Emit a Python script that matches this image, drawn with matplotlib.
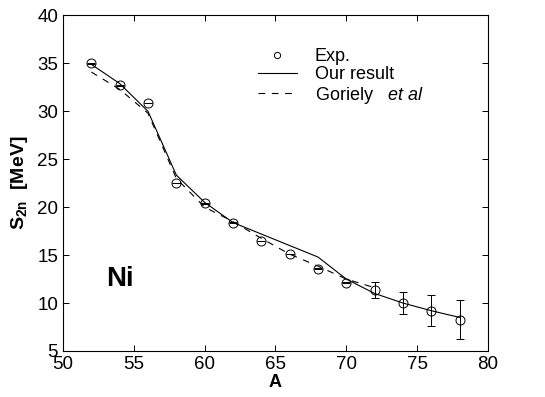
import matplotlib
matplotlib.use("Agg")
import matplotlib.pyplot as plt
from matplotlib.lines import Line2D

plt.rcParams['font.family'] = ['Liberation Sans', 'DejaVu Sans']
plt.rcParams['mathtext.fontset'] = 'custom'
plt.rcParams['mathtext.rm'] = 'Liberation Sans'
plt.rcParams['mathtext.it'] = 'Liberation Sans:italic'
plt.rcParams['mathtext.bf'] = 'Liberation Sans:bold'

# Experimental data
exp_A = [52, 54, 56, 58, 60, 62, 64, 66, 68, 70, 72, 74, 76, 78]
exp_S = [35.0, 32.7, 30.9, 22.5, 20.4, 18.4, 16.5, 15.1, 13.6, 12.1, 11.35, 10.0, 9.2, 8.25]
exp_err = [0.02, 0.02, 0.02, 0.02, 0.02, 0.02, 0.02, 0.02, 0.02, 0.05, 0.8, 1.15, 1.6, 2.05]

# Our result
our_A = [52, 54, 56, 58, 60, 62, 64, 66, 68, 70, 72, 74, 76, 78]
our_S = [34.9, 32.9, 30.0, 23.35, 20.5, 18.4, 17.2, 16.0, 14.8, 12.5, 11.0, 10.0, 9.2, 8.5]

# Goriely et al
gor_A = [52, 54, 56, 58, 60, 62, 64, 66, 68, 70, 72]
gor_S = [34.1, 32.3, 29.8, 23.0, 20.0, 18.5, 16.75, 15.1, 13.85, 12.5, 11.6]

xticks = [50, 55, 60, 65, 70, 75, 80]
yticks = [5, 10, 15, 20, 25, 30, 35, 40]

fig = plt.figure(figsize=(5.45, 3.97), dpi=100)
ax = fig.add_axes([0.1156, 0.1159, 0.7798, 0.8451])

ax.plot(our_A, our_S, color='black', lw=0.8, zorder=3)
ax.plot(gor_A, gor_S, color='black', lw=0.8, ls=(0, (6, 6)), zorder=3)
ax.errorbar(exp_A, exp_S, yerr=exp_err, fmt='o', mfc='none', mec='black',
            ms=6.5, mew=0.7, ecolor='black', elinewidth=0.7, capsize=3,
            capthick=0.7, zorder=4)

ax.set_xlim(50, 80)
ax.set_ylim(5, 40)
ax.set_xticks(xticks)
ax.set_yticks(yticks)
ax.tick_params(direction='in', length=4, width=0.7, top=True, right=True,
               labelsize=13.5, pad=3.5)
for s in ax.spines.values():
    s.set_linewidth(0.8)

ax.set_xlabel('A', fontsize=13, fontweight='bold', labelpad=1)
ax.set_ylabel(r'$\mathbf{S_{2n}}$  [MeV]', fontsize=14, fontweight='bold', labelpad=5)

ax.text(54.05, 12.5, 'Ni', fontsize=20, fontweight='bold', ha='center', va='center')

handles = [
    Line2D([], [], ls='none', marker='o', mfc='none', mec='black', ms=4.5, mew=0.7),
    Line2D([], [], color='black', lw=0.8),
    Line2D([], [], color='black', lw=0.8, ls=(0, (6, 6))),
]
labels = ['Exp.', 'Our result', r'Goriely   $\it{et\ al}$']
ax.legend(handles, labels, loc='upper left', bbox_to_anchor=(0.442, 0.925),
          frameon=False, fontsize=13, handlelength=2.15, handletextpad=1.0,
          labelspacing=0.08, borderaxespad=0)

fig.savefig('out.png', dpi=100)
